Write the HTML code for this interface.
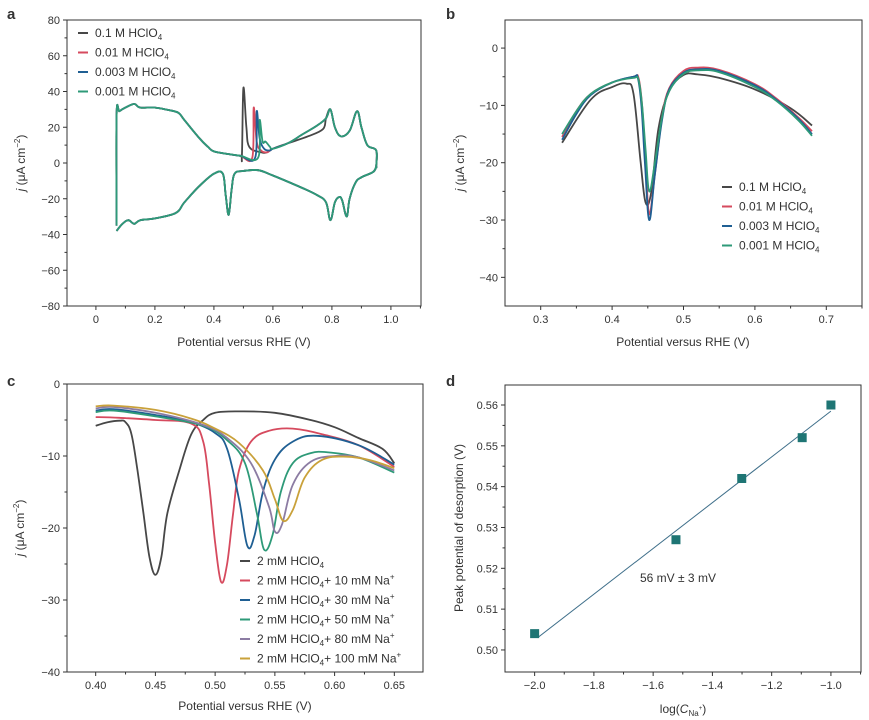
<!DOCTYPE html>
<html><head><meta charset="utf-8">
<style>
body{margin:0;background:#fff;}
svg{display:block;font-family:"Liberation Sans",sans-serif;}
text{fill:#333;}
</style></head>
<body>
<svg id="fig" width="869" height="720" viewBox="0 0 869 720" xmlns="http://www.w3.org/2000/svg">
<text x="7" y="19" font-size="15" font-weight="bold">a</text>
<text x="446" y="19" font-size="15" font-weight="bold">b</text>
<text x="7" y="386" font-size="15" font-weight="bold">c</text>
<text x="446" y="386" font-size="15" font-weight="bold">d</text>
</svg>
<script>
// ---- Panel a data ----
const aAnodicStart=[[0.07,-35],[0.07,27],[0.08,29],[0.1,31],[0.13,33],[0.15,31],[0.2,31],[0.25,29.5],[0.28,28],[0.3,24],[0.35,14],[0.38,9],[0.4,6.5],[0.45,5],[0.49,4]];
const aAnodicEnd=[[0.6,8],[0.65,11],[0.7,16],[0.75,21],[0.78,25],[0.795,30],[0.81,20],[0.83,15],[0.86,18],[0.885,29],[0.9,20],[0.92,10],[0.95,7],[0.95,-2]];
const aCathodic=[[0.95,-2],[0.94,-5],[0.9,-8],[0.88,-11],[0.86,-20],[0.85,-30],[0.835,-21],[0.825,-19],[0.81,-22],[0.795,-32],[0.78,-22],[0.75,-18],[0.7,-14],[0.6,-7],[0.55,-4],[0.5,-4.5],[0.47,-6],[0.46,-15],[0.45,-29],[0.44,-18],[0.43,-6],[0.4,-6],[0.35,-13],[0.3,-22],[0.27,-28],[0.2,-31],[0.15,-32],[0.13,-34],[0.11,-32],[0.09,-34],[0.07,-38]];
const aSpikeBlack=[[0.495,4],[0.5,42],[0.51,20],[0.52,9],[0.56,6],[0.58,6]];
const aMidBlack=[[0.72,15],[0.77,19]];
const aSpikeRed=[[0.53,3],[0.535,31],[0.545,12],[0.56,7],[0.58,6]];
const aSpikeBlue=[[0.54,3],[0.545,29],[0.555,14],[0.57,8],[0.59,7]];
const aSpikeGreen=[[0.55,3],[0.555,24],[0.565,12],[0.575,12],[0.59,9]];
const aLabels=["0.1 M HClO","0.01 M HClO","0.003 M HClO","0.001 M HClO"];
// ---- Panel b data ----
const bBlack=[[0.33,-16.5],[0.37,-9],[0.4,-6.8],[0.42,-6.2],[0.43,-8],[0.44,-20],[0.447,-27],[0.455,-25],[0.465,-14],[0.48,-7.5],[0.5,-4.7],[0.52,-4.6],[0.55,-5.2],[0.6,-7.2],[0.65,-10.5],[0.68,-13.5]];
const bRed=[[0.33,-15.5],[0.35,-11],[0.37,-8],[0.4,-6],[0.43,-5],[0.437,-5.2],[0.442,-10],[0.447,-20],[0.452,-29],[0.46,-22],[0.47,-12],[0.48,-7],[0.5,-4],[0.52,-3.4],[0.55,-3.8],[0.6,-6.3],[0.63,-8.8],[0.66,-12],[0.68,-14.5]];
const bBlue=[[0.33,-16],[0.35,-11.5],[0.37,-8.2],[0.4,-6],[0.43,-5],[0.436,-5.2],[0.441,-10],[0.446,-20],[0.452,-30],[0.46,-22],[0.47,-12.5],[0.48,-7.2],[0.5,-4.3],[0.52,-3.7],[0.55,-4],[0.6,-6.5],[0.63,-9],[0.66,-12.2],[0.68,-15]];
const bGreen=[[0.33,-15],[0.35,-11],[0.37,-8],[0.4,-6],[0.43,-5.2],[0.437,-5.5],[0.442,-10],[0.447,-18],[0.452,-25],[0.46,-20],[0.47,-12],[0.48,-7.5],[0.5,-4.5],[0.52,-3.9],[0.55,-4.2],[0.6,-6.8],[0.63,-9.2],[0.66,-12.5],[0.68,-15.3]];
// ---- Panel c data ----
const c0=[[0.4,-5.8],[0.41,-5.3],[0.42,-5.1],[0.425,-5.3],[0.43,-7],[0.435,-12],[0.44,-18],[0.445,-24],[0.45,-26.5],[0.455,-24],[0.46,-18],[0.47,-12],[0.48,-7],[0.49,-5],[0.5,-4],[0.52,-3.8],[0.55,-4],[0.58,-5],[0.6,-6],[0.62,-7.5],[0.64,-9],[0.65,-11]];
const c10=[[0.4,-4.6],[0.42,-4.7],[0.45,-5],[0.48,-5.5],[0.49,-8],[0.495,-14],[0.5,-22],[0.505,-27.5],[0.51,-25],[0.515,-18],[0.52,-12],[0.53,-8],[0.545,-6.5],[0.565,-6.2],[0.59,-7],[0.62,-8.5],[0.65,-11.5]];
const c30=[[0.4,-3.7],[0.415,-3.5],[0.45,-4.3],[0.48,-5.3],[0.5,-6.8],[0.51,-9],[0.52,-16],[0.527,-22.5],[0.533,-21],[0.54,-15],[0.55,-10.5],[0.565,-8],[0.585,-7.2],[0.62,-8.5],[0.65,-11.2]];
const c50=[[0.4,-3.9],[0.415,-3.7],[0.45,-4.5],[0.49,-5.8],[0.51,-7.8],[0.525,-11],[0.535,-18],[0.541,-23],[0.548,-21],[0.555,-15],[0.565,-11],[0.58,-9.6],[0.595,-9.5],[0.62,-10.2],[0.65,-12.3]];
const c80=[[0.4,-3.4],[0.415,-3.2],[0.45,-4],[0.49,-5.7],[0.51,-7.5],[0.53,-11],[0.545,-17],[0.55,-20.5],[0.556,-19.5],[0.565,-14],[0.58,-10.8],[0.6,-10],[0.62,-10.2],[0.65,-12]];
const c100=[[0.4,-3.1],[0.415,-3],[0.45,-3.6],[0.48,-4.8],[0.5,-6.2],[0.52,-8.2],[0.54,-12],[0.55,-16],[0.557,-19],[0.565,-17.5],[0.575,-13],[0.59,-10.5],[0.61,-10.1],[0.63,-10.6],[0.65,-11.7]];
const cLabels=["2 mM HClO","2 mM HClO","2 mM HClO","2 mM HClO","2 mM HClO","2 mM HClO"];
const cSuffix=["","+ 10 mM Na","+ 30 mM Na","+ 50 mM Na","+ 80 mM Na","+ 100 mM Na"];
// ---- Panel d data ----
const dX=[-2.0,-1.523,-1.301,-1.097,-1.0];
const dY=[0.504,0.527,0.542,0.552,0.560];
const dFitX=[-1.99,-1.0];
const dFitY=[0.503,0.5585];

const COL=["#474747","#d64a5e","#1f5f93","#2e9a78","#8c7ca3","#c9a13a"];
const NS="http://www.w3.org/2000/svg";
const svg=document.getElementById('fig');
function mk(tag,attrs,parent){const e=document.createElementNS(NS,tag);for(const k in attrs)e.setAttribute(k,attrs[k]);(parent||svg).appendChild(e);return e;}
function axes(p){
  const sx=v=>p.x0+(v-p.xmin)/(p.xmax-p.xmin)*(p.x1-p.x0);
  const sy=v=>p.y1-(v-p.ymin)/(p.ymax-p.ymin)*(p.y1-p.y0);
  return {sx,sy};
}
function frame(p,name){
  const g=mk('g',{});
  
  
  const r=mk('rect',{x:p.x0,y:p.y0,width:p.x1-p.x0,height:p.y1-p.y0,fill:'none',stroke:'#333','stroke-width':1},g);
  
  
  const {sx,sy}=axes(p);
  for(let i=0;;i++){const v=p.xt0+i*p.xminor;if(v>p.xmax+1e-9)break;if(v<p.xmin-1e-9)continue;
    const X=sx(v);const major=Math.abs(((v-p.xt0)/p.xmajor)-Math.round((v-p.xt0)/p.xmajor))<1e-6;
    mk('line',{x1:X,x2:X,y1:p.y1,y2:p.y1+(major?4:2.5),stroke:'#333'},g);
    if(major&&p.xlab(v)!==null){const t=mk('text',{x:X,y:p.y1+17,'font-size':11,'text-anchor':'middle'},g);t.textContent=p.xlab(v);
      }}
  for(let i=0;;i++){const v=p.yt0+i*p.yminor;if(v>p.ymax+1e-9)break;if(v<p.ymin-1e-9)continue;
    const Y=sy(v);const major=Math.abs(((v-p.yt0)/p.ymajor)-Math.round((v-p.yt0)/p.ymajor))<1e-6;
    mk('line',{x1:p.x0,x2:p.x0-(major?4:2.5),y1:Y,y2:Y,stroke:'#333'},g);
    if(major&&p.ylab(v)!==null){const t=mk('text',{x:p.x0-7,y:Y+4,'font-size':11,'text-anchor':'end'},g);t.textContent=p.ylab(v);
      }}
  return {sx,sy};
}
function line(pts,sc,color,name,w,straight){
  const P=pts.map(q=>[sc.sx(q[0]),sc.sy(q[1])]);
  let d='M'+P[0][0].toFixed(1)+' '+P[0][1].toFixed(1);
  for(let i=0;i<P.length-1;i++){
    if(straight){d+=' L'+P[i+1][0].toFixed(1)+' '+P[i+1][1].toFixed(1);continue;}
    const p0=P[Math.max(0,i-1)],p1=P[i],p2=P[i+1],p3=P[Math.min(P.length-1,i+2)];
    const t=0.18;
    const c1=[p1[0]+(p2[0]-p0[0])*t,p1[1]+(p2[1]-p0[1])*t];
    const c2=[p2[0]-(p3[0]-p1[0])*t,p2[1]-(p3[1]-p1[1])*t];
    d+=' C'+c1.map(v=>v.toFixed(1)).join(' ')+' '+c2.map(v=>v.toFixed(1)).join(' ')+' '+p2[0].toFixed(1)+' '+p2[1].toFixed(1);
  }
  const e=mk('path',{d:d,fill:'none',stroke:color,'stroke-width':w||1.8,'stroke-linejoin':'round'});
  
  
  return e;
}
function legend(x,y0,dy,labels,suffix,sup,name){
  labels.forEach((l,i)=>{
    const y=y0+i*dy;
    const s=mk('line',{x1:x,x2:x+10,y1:y-4,y2:y-4,stroke:COL[i],'stroke-width':2});
    
    const t=mk('text',{x:x+17,y:y,'font-size':12});
    
    t.appendChild(document.createTextNode(l));
    const sub=mk('tspan',{'font-size':8,dy:3},t);sub.textContent='4';
    if(suffix&&suffix[i]){const tt=mk('tspan',{dy:-3},t);tt.textContent=suffix[i];const sp=mk('tspan',{'font-size':8,dy:-5},t);sp.textContent='+';}
  });
}
function ytitle(x,y,name,parts){
  const t=mk('text',{x:0,y:0,'font-size':12,'text-anchor':'middle',transform:`translate(${x},${y}) rotate(-90)`});
  
  parts(t);
}
function jtitle(t){const a=mk('tspan',{'font-style':'italic'},t);a.textContent='j';const b=mk('tspan',{},t);b.textContent=' (μA cm';const c=mk('tspan',{'font-size':8,dy:-5},t);c.textContent='−2';const d=mk('tspan',{dy:5},t);d.textContent=')';}
function xtitle(x,y,txt,name){const t=mk('text',{x:x,y:y,'font-size':12,'text-anchor':'middle'});t.textContent=txt;return t;}
const i0=v=>String(Math.round(v)).replace('-','−');

// Panel a
const pa={x0:67,x1:421,y0:20,y1:306,xmin:-0.098,xmax:1.102,ymin:-80,ymax:80,xt0:0.0,xminor:0.1,xmajor:0.2,yt0:-80,yminor:10,ymajor:20,
  xlab:v=>{const r=Math.round(v*10)/10;return (Math.round(r*10)%2===0&&r>=0)?(r===0?'0':r.toFixed(1)):null},ylab:i0};
const sa=frame(pa,'panel-a');
const aSeries=[[aSpikeBlack,aMidBlack],[aSpikeRed,[]],[aSpikeBlue,[]],[aSpikeGreen,[]]];
aSeries.forEach((s,i)=>{
  let mid=aAnodicEnd;
  if(s[1].length){mid=aAnodicEnd.slice(0,2).concat(s[1],aAnodicEnd.slice(4));}
  line(aAnodicStart.concat(s[0],mid,aCathodic),sa,COL[i],'panel-a-cv-'+['0p1M','0p01M','0p003M','0p001M'][i]);
});
legend(78,37,19.5,aLabels,null,false,'panel-a-legend');
ytitle(25,163,'panel-a-y-axis-title',jtitle);
xtitle(244,346,'Potential versus RHE (V)','panel-a-x-axis-title');

// Panel b
const pb={x0:505,x1:862,y0:20,y1:306,xmin:0.25,xmax:0.75,ymin:-45,ymax:4.9,xt0:0.3,xminor:0.05,xmajor:0.1,yt0:-40,yminor:5,ymajor:10,
  xlab:v=>{const r=Math.round(v*100)/100;return (Math.round(r*100)%10===0&&r>=0.3&&r<=0.7)?r.toFixed(1):null},
  ylab:v=>{const r=Math.round(v);return (r%10===0)?i0(r):null}};
const sb=frame(pb,'panel-b');
[bBlack,bRed,bBlue,bGreen].forEach((s,i)=>line(s,sb,COL[i],'panel-b-curve-'+i));
legend(722,191,19.5,aLabels,null,false,'panel-b-legend');
ytitle(464,163,'panel-b-y-axis-title',jtitle);
xtitle(683,346,'Potential versus RHE (V)','panel-b-x-axis-title');

// Panel c
const pc={x0:67,x1:423,y0:384,y1:672,xmin:0.376,xmax:0.674,ymin:-40,ymax:0,xt0:0.4,xminor:0.025,xmajor:0.05,yt0:-40,yminor:5,ymajor:10,
  xlab:v=>(v<=0.651?v.toFixed(2):null),ylab:i0};
const scc=frame(pc,'panel-c');
[c0,c10,c30,c50,c80,c100].forEach((s,i)=>line(s,scc,COL[i],'panel-c-curve-'+i));
legend(240,565,19.5,cLabels,cSuffix,true,'panel-c-legend');
ytitle(24,528,'panel-c-y-axis-title',jtitle);
xtitle(245,710,'Potential versus RHE (V)','panel-c-x-axis-title');

// Panel d
const pd={x0:505,x1:861,y0:385,y1:672,xmin:-2.1,xmax:-0.8985,ymin:0.4946,ymax:0.5649,xt0:-2.0,xminor:0.1,xmajor:0.2,yt0:0.50,yminor:0.005,ymajor:0.01,
  xlab:v=>(v>=-2.001&&v<=-0.999?v.toFixed(1).replace('-','−'):null),ylab:v=>(v>=0.4995?v.toFixed(2):null)};
const sd=frame(pd,'panel-d');
line([[dFitX[0],dFitY[0]],[dFitX[1],dFitY[1]]],sd,'#3f6f8a','panel-d-fit-line',1,true);
dX.forEach((x,i)=>{const r=mk('rect',{x:sd.sx(x)-4.5,y:sd.sy(dY[i])-4.5,width:9,height:9,fill:'#1e7574'});
  });
const an=mk('text',{x:640,y:582,'font-size':12});an.textContent='56 mV ± 3 mV';
ytitle(463,528,'panel-d-y-axis-title',t=>{t.textContent='Peak potential of desorption (V)';});
const xt=xtitle(683,713,'log(','panel-d-x-axis-title');
const ci=mk('tspan',{'font-style':'italic'},xt);ci.textContent='C';
const sub=mk('tspan',{'font-size':8,dy:3},xt);sub.textContent='Na';
const sp=mk('tspan',{'font-size':6,dy:-6},xt);sp.textContent='+';
const cl=mk('tspan',{dy:3},xt);cl.textContent=')';
</script>
</body></html>
